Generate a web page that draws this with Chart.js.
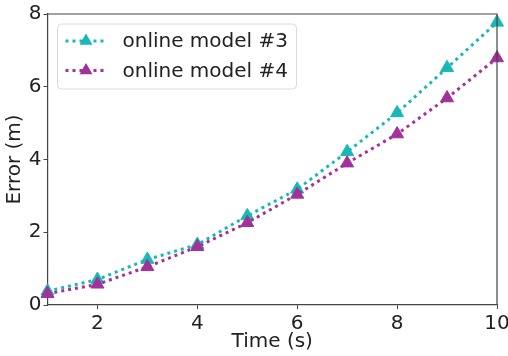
<!DOCTYPE html>
<html>
<head>
<meta charset="utf-8">
<script src="https://cdn.jsdelivr.net/npm/chart.js@4/dist/chart.umd.min.js"></script>
<style>
  html, body { margin: 0; padding: 0; background: #fff; }
  #wrap { width: 508px; height: 356px; position: relative; }
</style>
</head>
<body>
<div id="wrap"><canvas id="chart"></canvas></div>
<script>
// values
const times = [1, 2, 3, 4, 5, 6, 7, 8, 9, 10];
const model3 = [0.38, 0.70, 1.25, 1.66, 2.45, 3.18, 4.21, 5.28, 6.52, 7.77];
const model4 = [0.31, 0.57, 1.05, 1.60, 2.26, 3.04, 3.90, 4.70, 5.69, 6.79];
const xTicks = [2, 4, 6, 8, 10];
const yTicks = [0, 2, 4, 6, 8];
const labels = ['online model #3', 'online model #4'];

const TEAL = '#17b9b6';
const PURPLE = '#a2329a';
const TEXT = '#222';
const FONT = 'DejaVu Sans';

const toPoints = (ys) => ys.map((y, i) => ({ x: times[i], y: y }));

// legend box drawn inside the plot, top-left
const insideLegend = {
  id: 'insideLegend',
  afterDatasetsDraw(chart) {
    const ctx = chart.ctx;
    const area = chart.chartArea;
    const bx = area.left + 10, by = area.top + 10, bw = 239, bh = 65;
    ctx.save();
    ctx.beginPath();
    ctx.roundRect(bx, by, bw, bh, 4);
    ctx.fillStyle = 'rgba(255,255,255,0.85)';
    ctx.fill();
    ctx.strokeStyle = '#dcdcdc';
    ctx.lineWidth = 1;
    ctx.stroke();

    chart.data.datasets.forEach((ds, i) => {
      const cy = by + 17 + i * 29.5;
      ctx.strokeStyle = ds.borderColor;
      ctx.lineWidth = 3;
      ctx.setLineDash([3, 4]);
      ctx.beginPath();
      ctx.moveTo(bx + 8, cy);
      ctx.lineTo(bx + 49, cy);
      ctx.stroke();
      ctx.setLineDash([]);
      // triangle marker
      const r = 7.5, mx = bx + 28.5;
      ctx.fillStyle = ds.backgroundColor;
      ctx.beginPath();
      ctx.moveTo(mx, cy - r);
      ctx.lineTo(mx + r * 0.866, cy + r / 2);
      ctx.lineTo(mx - r * 0.866, cy + r / 2);
      ctx.closePath();
      ctx.fill();

      ctx.fillStyle = TEXT;
      ctx.font = '20px "' + FONT + '"';
      ctx.textBaseline = 'middle';
      ctx.textAlign = 'left';
      ctx.fillText(ds.label, bx + 65, cy + 1);
    });
    ctx.restore();
  }
};

// top and right spines
const frame = {
  id: 'frame',
  afterDraw(chart) {
    const { ctx, chartArea: a } = chart;
    ctx.save();
    ctx.strokeStyle = '#444';
    ctx.lineWidth = 1.2;
    ctx.beginPath();
    ctx.moveTo(a.left, a.top);
    ctx.lineTo(a.right, a.top);
    ctx.lineTo(a.right, a.bottom);
    ctx.stroke();
    ctx.restore();
  }
};

new Chart(document.getElementById('chart'), {
  type: 'line',
  data: {
    datasets: [
      {
        label: labels[0],
        data: toPoints(model3),
        borderColor: TEAL,
        backgroundColor: TEAL,
        borderWidth: 3,
        borderDash: [3, 4],
        pointStyle: 'triangle',
        pointRadius: 7.5,
        pointBorderWidth: 1,
        pointBorderColor: TEAL,
        pointBackgroundColor: TEAL,
        order: 2
      },
      {
        label: labels[1],
        data: toPoints(model4),
        borderColor: PURPLE,
        backgroundColor: PURPLE,
        borderWidth: 3,
        borderDash: [3, 4],
        pointStyle: 'triangle',
        pointRadius: 7.5,
        pointBorderWidth: 1,
        pointBorderColor: PURPLE,
        pointBackgroundColor: PURPLE,
        order: 1
      }
    ]
  },
  options: {
    responsive: true,
    maintainAspectRatio: false,
    animation: false,
    clip: false,
    layout: { padding: { top: 14, right: 11, left: 0, bottom: 0 } },
    plugins: {
      legend: { display: false },
      tooltip: { enabled: false }
    },
    scales: {
      x: {
        type: 'linear',
        min: 1,
        max: 10,
        afterBuildTicks: (s) => { s.ticks = xTicks.map(v => ({ value: v })); },
        afterFit: (s) => { s.height = 51; s.paddingLeft = 0; s.paddingRight = 0; },
        grid: { display: true, drawOnChartArea: false, drawTicks: true, tickLength: 4, color: '#444', tickWidth: 1 },
        border: { display: true, color: '#444', width: 1.2 },
        ticks: { color: TEXT, font: { family: FONT, size: 20 }, padding: 3, maxRotation: 0 },
        title: { display: true, text: 'Time (s)', color: TEXT, font: { family: FONT, size: 20 }, padding: { top: 0, bottom: 2 } }
      },
      y: {
        min: 0,
        max: 8,
        afterBuildTicks: (s) => { s.ticks = yTicks.map(v => ({ value: v })); },
        afterFit: (s) => { s.width = 47.5; s.paddingTop = 0; s.paddingBottom = 0; },
        grid: { display: true, drawOnChartArea: false, drawTicks: true, tickLength: 4, color: '#444', tickWidth: 1 },
        border: { display: true, color: '#444', width: 1.2 },
        ticks: { color: TEXT, font: { family: FONT, size: 20 }, padding: 2 },
        title: { display: true, text: 'Error (m)', color: TEXT, font: { family: FONT, size: 20 }, padding: { top: 3, bottom: 0 } }
      }
    }
  },
  plugins: [insideLegend, frame]
});
</script>
</body>
</html>
